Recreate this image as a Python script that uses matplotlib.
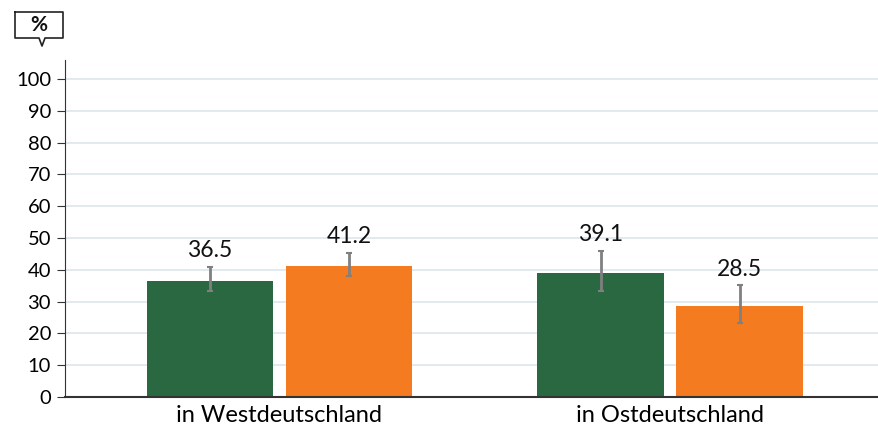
import matplotlib
matplotlib.use("Agg")
import matplotlib.pyplot as plt
import numpy as np

# Werte
regionen = ["in Westdeutschland", "in Ostdeutschland"]
gruen = [36.5, 39.1]
orange = [41.2, 28.5]
gruen_unten = [33.3, 33.3]
gruen_oben = [40.9, 45.9]
orange_unten = [38.0, 23.2]
orange_oben = [45.4, 35.1]
y_ticks = [0, 10, 20, 30, 40, 50, 60, 70, 80, 90, 100]

plt.rcParams["font.family"] = ["Lato", "DejaVu Sans"]

W, H = 879, 430
fig = plt.figure(figsize=(W/100, H/100), dpi=100)
ax = fig.add_axes([65/W, 1-397/H, 1-65/W, (397-60)/H])

x = np.arange(len(regionen))
w = 0.323
off = 0.178
farbe_g = "#2a6841"
farbe_o = "#f47b20"

ax.bar(x - off, gruen, w, color=farbe_g, zorder=2)
ax.bar(x + off, orange, w, color=farbe_o, zorder=2)

for xs, vals, lo, hi in [(x - off, gruen, gruen_unten, gruen_oben),
                         (x + off, orange, orange_unten, orange_oben)]:
    vals = np.array(vals)
    err = [vals - np.array(lo), np.array(hi) - vals]
    ax.errorbar(xs, vals, yerr=err, fmt="none", ecolor="#808080",
                elinewidth=2, capsize=2.5, capthick=1.5, zorder=3)
    for xi, v, h in zip(xs, vals, hi):
        ax.text(xi, h + 1.8, f"{v:.1f}", ha="center", va="bottom",
                fontsize=16.5, color="#111111")

ax.set_ylim(0, 106)
ax.set_xlim(-0.549, 1.535)
ax.set_yticks(y_ticks)
ax.set_xticks(x)
ax.set_xticklabels(regionen, fontsize=17)
ax.tick_params(axis="y", labelsize=14.5, length=6, color="#333333", pad=4)
ax.tick_params(axis="x", length=0, pad=6)
ax.yaxis.grid(True, color="#dbe6ec", linewidth=1.2, zorder=0)
ax.set_axisbelow(True)
for s in ["top", "right"]:
    ax.spines[s].set_visible(False)
ax.spines["left"].set_color("#333333")
ax.spines["bottom"].set_color("#333333")
ax.spines["bottom"].set_linewidth(1.5)

# "%"-Sprechblase oben links (Pixelkoordinaten -> Figurkoordinaten)
bx = [15, 63, 63, 45, 42, 39, 15, 15]
by = [12, 12, 38, 38, 46, 38, 38, 12]
fig.add_artist(plt.Line2D([v/W for v in bx], [1-v/H for v in by],
                          transform=fig.transFigure, color="#222222", lw=1.2))
fig.text(39/W, 1-25/H, "%", ha="center", va="center", fontsize=15,
         fontweight="bold", color="#111111")

fig.savefig("out.png", dpi=100)
